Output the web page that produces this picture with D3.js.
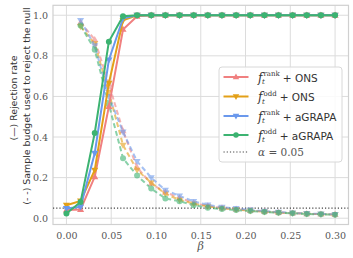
<!DOCTYPE html>
<html><head><meta charset="utf-8">
<script src="https://cdn.jsdelivr.net/npm/d3@7/dist/d3.min.js"></script>
<style>body{margin:0;background:#fff}svg{display:block}</style>
</head><body>
<script>
const beta = [0, 0.0158, 0.0316, 0.0474, 0.0632, 0.0789, 0.0947, 0.1105, 0.1263, 0.1421, 0.1579, 0.1737, 0.1895, 0.2053, 0.2211, 0.2368, 0.2526, 0.2684, 0.2842, 0.3];

const rejRankONS   = [0.040, 0.043, 0.204, 0.55, 0.93, 0.995, 1, 1, 1, 1, 1, 1, 1, 1, 1, 1, 1, 1, 1, 1];
const rejOddONS    = [0.064, 0.085, 0.237, 0.665, 0.975, 1, 1, 1, 1, 1, 1, 1, 1, 1, 1, 1, 1, 1, 1, 1];
const rejRankAGRAPA= [0.048, 0.056, 0.320, 0.78, 0.985, 1, 1, 1, 1, 1, 1, 1, 1, 1, 1, 1, 1, 1, 1, 1];
const rejOddAGRAPA = [0.023, 0.080, 0.420, 0.87, 0.995, 1, 1, 1, 1, 1, 1, 1, 1, 1, 1, 1, 1, 1, 1, 1];

const budRankONS   = [null, 0.965, 0.88, 0.66, 0.43, 0.25, 0.17, 0.128, 0.100, 0.075, 0.060, 0.050, 0.044, 0.038, 0.033, 0.028, 0.025, 0.022, 0.020, 0.018];
const budOddONS    = [null, 0.945, 0.86, 0.62, 0.36, 0.237, 0.175, 0.120, 0.090, 0.072, 0.058, 0.050, 0.043, 0.037, 0.032, 0.028, 0.025, 0.022, 0.020, 0.018];
const budRankAGRAPA= [null, 0.975, 0.85, 0.60, 0.425, 0.28, 0.20, 0.138, 0.110, 0.083, 0.066, 0.054, 0.048, 0.041, 0.035, 0.030, 0.026, 0.023, 0.021, 0.019];
const budOddAGRAPA = [null, 0.950, 0.83, 0.56, 0.295, 0.21, 0.146, 0.097, 0.084, 0.064, 0.052, 0.045, 0.040, 0.035, 0.031, 0.027, 0.024, 0.021, 0.019, 0.017];

const alpha = 0.05;
const xTicks = [0, 0.05, 0.10, 0.15, 0.20, 0.25, 0.30];
const yTicks = [0, 0.2, 0.4, 0.6, 0.8, 1.0];

const series = [
  {sup:"rank", test:"ONS",    color:"#F08080", marker:"up",   rej:rejRankONS,    bud:budRankONS},
  {sup:"odd",  test:"ONS",    color:"#E3A018", marker:"down", rej:rejOddONS,     bud:budOddONS},
  {sup:"rank", test:"aGRAPA", color:"#6A98EC", marker:"down", rej:rejRankAGRAPA, bud:budRankAGRAPA},
  {sup:"odd",  test:"aGRAPA", color:"#3CB371", marker:"circle", rej:rejOddAGRAPA, bud:budOddAGRAPA}
];

const W = 353, H = 258;
const L = 53, R = 348.5, T = 5.3, B = 224.5;
const svg = d3.select("body").append("svg").attr("width", W).attr("height", H);

const x = d3.scaleLinear().domain([-0.015, 0.315]).range([L, R]);
const y = d3.scaleLinear().domain([-0.031, 1.049]).range([B, T]);

// grid
const g = svg.append("g");
g.selectAll(".gx").data(xTicks).join("line")
  .attr("x1", d => x(d)).attr("x2", d => x(d)).attr("y1", T).attr("y2", B)
  .attr("stroke", "#dcdcdc").attr("stroke-width", 1);
g.selectAll(".gy").data(yTicks).join("line")
  .attr("y1", d => y(d)).attr("y2", d => y(d)).attr("x1", L).attr("x2", R)
  .attr("stroke", "#dcdcdc").attr("stroke-width", 1);

// axes (tick labels)
const xAxis = d3.axisBottom(x).tickValues(xTicks).tickFormat(d3.format(".2f")).tickSize(0).tickPadding(8);
const yAxis = d3.axisLeft(y).tickValues(yTicks).tickFormat(d3.format(".1f")).tickSize(0).tickPadding(5);
const gx = svg.append("g").attr("transform", `translate(0,${B})`).call(xAxis);
const gy = svg.append("g").attr("transform", `translate(${L},0)`).call(yAxis);
[gx, gy].forEach(a => {
  a.select(".domain").remove();
  a.selectAll("text").attr("font-family", "'DejaVu Serif', serif").attr("font-size", 9.5).attr("fill", "#555");
});

// frame
svg.append("rect").attr("x", L).attr("y", T).attr("width", R - L).attr("height", B - T)
  .attr("fill", "none").attr("stroke", "#d0d0d0").attr("stroke-width", 1.2);

// plot clip
svg.append("clipPath").attr("id", "clip").append("rect")
  .attr("x", L).attr("y", T).attr("width", R - L).attr("height", B - T);
const plot = svg.append("g").attr("clip-path", "url(#clip)");

const line = d3.line().defined(d => d[1] != null).x(d => x(d[0])).y(d => y(d[1]));

function marker(sel, type, color, size) {
  if (type === "circle") {
    sel.append("circle").attr("r", size * 0.5).attr("fill", color);
  } else {
    const s = size * 0.62;
    const p = type === "up"
      ? `M0,${-s} L${s*0.95},${s*0.65} L${-s*0.95},${s*0.65}Z`
      : `M0,${s} L${s*0.95},${-s*0.65} L${-s*0.95},${-s*0.65}Z`;
    sel.append("path").attr("d", p).attr("fill", color);
  }
}

// alpha line
plot.append("line").attr("x1", L).attr("x2", R).attr("y1", y(alpha)).attr("y2", y(alpha))
  .attr("stroke", "#444").attr("stroke-width", 1.2).attr("stroke-dasharray", "1.2,2");

// dashed budget lines
series.forEach(s => {
  const pts = beta.map((b, i) => [b, s.bud[i]]);
  const gg = plot.append("g").attr("opacity", 0.6);
  gg.append("path").attr("d", line(pts)).attr("fill", "none").attr("stroke", s.color)
    .attr("stroke-width", 2).attr("stroke-dasharray", "5,3");
  pts.filter(p => p[1] != null).forEach(p => {
    marker(gg.append("g").attr("transform", `translate(${x(p[0])},${y(p[1])})`), s.marker, s.color, 6);
  });
});

// solid rejection lines
series.forEach(s => {
  const pts = beta.map((b, i) => [b, s.rej[i]]);
  const gg = plot.append("g");
  gg.append("path").attr("d", line(pts)).attr("fill", "none").attr("stroke", s.color).attr("stroke-width", 2);
  pts.forEach(p => {
    marker(gg.append("g").attr("transform", `translate(${x(p[0])},${y(p[1])})`), s.marker, s.color, 6);
  });
});

// axis labels
svg.append("text").attr("transform", "translate(16.5,98) rotate(-90)").attr("text-anchor", "middle")
  .attr("font-family", "'DejaVu Sans', sans-serif").attr("font-size", 9.4).attr("fill", "#333")
  .text("(—) Rejection rate");
svg.append("text").attr("transform", "translate(29.5,106) rotate(-90)").attr("text-anchor", "middle")
  .attr("font-family", "'DejaVu Sans', sans-serif").attr("font-size", 9.4).attr("fill", "#333")
  .text("(- -) Sample budget used to reject the null");
svg.append("text").attr("x", x(0.15)).attr("y", 250).attr("text-anchor", "middle")
  .attr("font-family", "'DejaVu Serif', serif").attr("font-style", "italic").attr("font-size", 11).attr("fill", "#555")
  .text("β");

// legend
const lg = svg.append("g");
lg.append("rect").attr("x", 219).attr("y", 67).attr("width", 123).attr("height", 95).attr("rx", 3)
  .attr("fill", "#fff").attr("fill-opacity", 0.85).attr("stroke", "#d8d8d8").attr("stroke-width", 1);
const rowsY = [77, 96.5, 116, 135, 152];
series.forEach((s, i) => {
  const ry = rowsY[i];
  lg.append("line").attr("x1", 223.5).attr("x2", 248.5).attr("y1", ry).attr("y2", ry)
    .attr("stroke", s.color).attr("stroke-width", 2);
  marker(lg.append("g").attr("transform", `translate(236,${ry})`), s.marker, s.color, 5.5);
  const tx = 258;
  lg.append("text").attr("x", tx).attr("y", ry + 4.5).attr("font-family", "'DejaVu Serif', serif")
    .attr("font-style", "italic").attr("font-size", 12).attr("fill", "#333").text("f");
  const sup = lg.append("text").attr("x", tx + 5.5).attr("y", ry - 1).attr("font-family", "'DejaVu Serif', serif")
    .attr("font-size", 7).attr("fill", "#333").text(s.sup);
  lg.append("text").attr("x", tx + 4).attr("y", ry + 7).attr("font-family", "'DejaVu Serif', serif")
    .attr("font-style", "italic").attr("font-size", 7).attr("fill", "#333").text("t");
  const sw = sup.node().getComputedTextLength();
  lg.append("text").attr("x", tx + 5.5 + sw + 3).attr("y", ry + 4.5).attr("font-family", "'DejaVu Sans', sans-serif")
    .attr("font-size", 10.5).attr("fill", "#333").text("+ " + s.test);
});
// alpha legend entry
lg.append("line").attr("x1", 223.5).attr("x2", 248.5).attr("y1", rowsY[4]).attr("y2", rowsY[4])
  .attr("stroke", "#444").attr("stroke-width", 1.2).attr("stroke-dasharray", "1.2,2");
lg.append("text").attr("x", 258).attr("y", rowsY[4] + 4).attr("font-family", "'DejaVu Serif', serif")
  .attr("font-size", 10.5).attr("fill", "#555")
  .html('<tspan font-style="italic">α</tspan> = 0.05');
</script>
</body></html>
